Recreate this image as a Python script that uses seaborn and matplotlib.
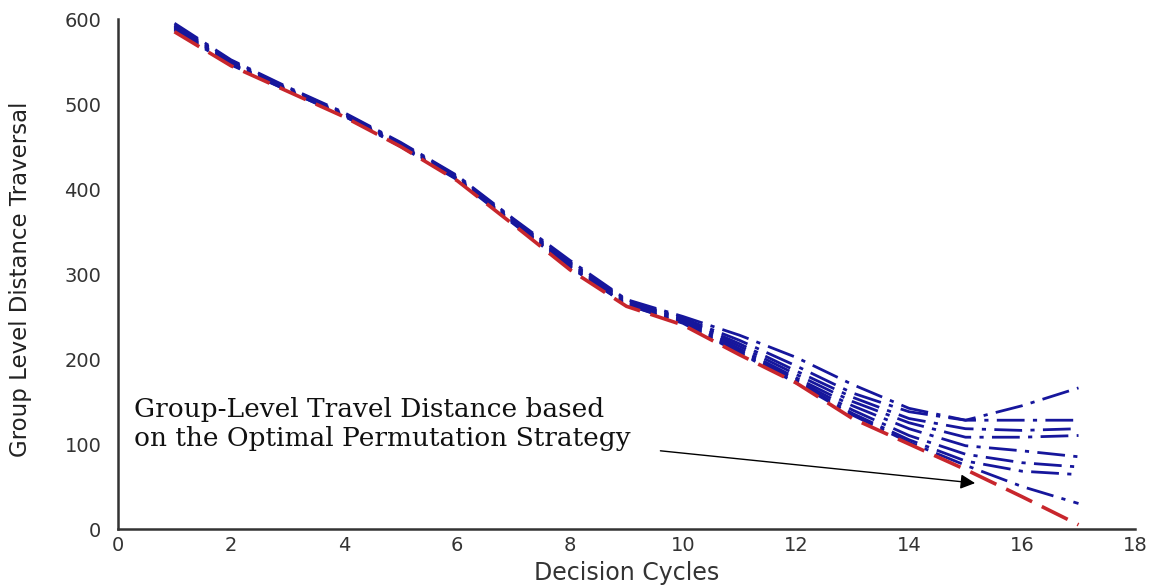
import numpy as np
import pandas as pd
import matplotlib
matplotlib.use("Agg")
import matplotlib.pyplot as plt
import seaborn as sns

# Decision cycles on the x axis
cycles = list(range(1, 18))

# Group-level distance for the optimal permutation strategy
optimal = [585, 545, 515, 485, 450, 410, 358, 305, 262, 240, 205, 172, 130, 100, 70, 38, 5]

# Group-level distance for the alternative permutations
perm_1 = [595, 552, 520, 490, 455, 416, 365, 316, 270, 250, 228, 202, 170, 142, 128, 145, 166]
perm_2 = [593, 551, 519, 489, 454, 415, 364, 314, 269, 248, 222, 192, 160, 138, 128, 128, 128]
perm_3 = [592, 550, 518, 488, 453, 414, 363, 313, 268, 247, 218, 186, 155, 130, 118, 116, 118]
perm_4 = [591, 549, 518, 488, 452, 413, 362, 312, 267, 246, 215, 182, 150, 125, 108, 108, 110]
perm_5 = [590, 548, 517, 487, 452, 413, 361, 311, 266, 245, 212, 178, 145, 118, 98, 92, 85]
perm_6 = [589, 548, 517, 487, 451, 412, 361, 310, 265, 244, 210, 176, 140, 110, 88, 78, 73]
perm_7 = [588, 547, 516, 486, 451, 412, 360, 309, 264, 243, 208, 174, 136, 105, 80, 68, 64]
perm_8 = [587, 546, 516, 486, 450, 411, 359, 308, 264, 242, 207, 172, 134, 102, 75, 50, 30]
permutations = [perm_1, perm_2, perm_3, perm_4, perm_5, perm_6, perm_7, perm_8]

x_ticks = list(range(0, 19, 2))
y_ticks = list(range(0, 601, 100))

sns.set_style("white")
plt.rcParams["font.family"] = ["DejaVu Sans"]

fig = plt.figure(figsize=(11.59, 5.87), dpi=100)
ax = fig.add_axes([0.1018, 0.0988, 0.8775, 0.8688])

for series in permutations:
    sns.lineplot(x=cycles, y=series, ax=ax, color="#16169c", linewidth=2.0,
                 linestyle=(0, (10, 3, 1.5, 3)), legend=False)

sns.lineplot(x=cycles, y=optimal, ax=ax, color="#c8262c", linewidth=2.6,
             linestyle=(0, (8, 3)), legend=False)

ax.set_xlim(0, 18)
ax.set_ylim(0, 600)
ax.set_xticks(x_ticks)
ax.set_yticks(y_ticks)
ax.set_xticklabels([str(t) for t in x_ticks], fontsize=14, color="#333333")
ax.set_yticklabels([str(t) for t in y_ticks], fontsize=14, color="#333333")
ax.tick_params(direction="in", length=6, width=1.3, color="#333333")
ax.tick_params(axis="x", pad=5)
ax.tick_params(axis="y", pad=12)

for side in ("top", "right"):
    ax.spines[side].set_visible(False)
for side in ("left", "bottom"):
    ax.spines[side].set_color("#333333")
    ax.spines[side].set_linewidth(1.8)

ax.set_xlabel("Decision Cycles", fontsize=17, color="#333333", labelpad=4)
ax.set_ylabel("Group Level Distance Traversal", fontsize=16.5, color="#222222")
ax.yaxis.set_label_coords(-0.085, 0.49)

ax.text(0.28, 124, "Group-Level Travel Distance based\non the Optimal Permutation Strategy",
        family="DejaVu Serif", fontsize=19, ha="left", va="center",
        linespacing=1.2, color="#111111")
ax.annotate("", xy=(15.17, 54), xytext=(9.6, 92),
            arrowprops=dict(arrowstyle="-|>", color="black", lw=1.0,
                            mutation_scale=22, shrinkA=0, shrinkB=0))

fig.savefig("out.png", dpi=100, facecolor="white")
